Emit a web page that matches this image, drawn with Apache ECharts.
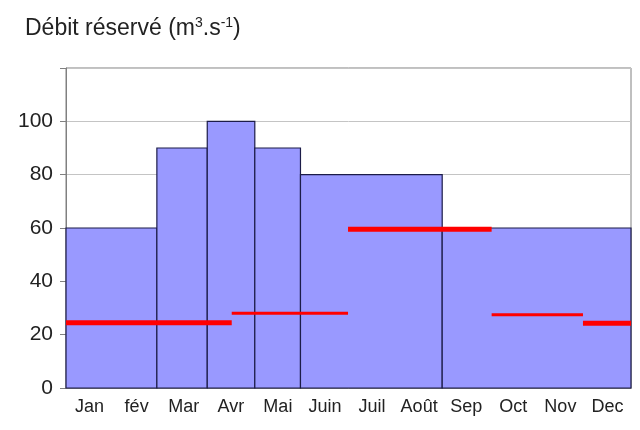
<!DOCTYPE html>
<html>
<head>
<meta charset="utf-8">
<script src="https://cdn.jsdelivr.net/npm/echarts@6/dist/echarts.min.js"></script>
<style>
  html, body { margin: 0; padding: 0; background: #fff; }
  #chart { width: 640px; height: 430px; }
</style>
</head>
<body>
<div id="chart"></div>
<script>
// month labels on the x axis
const months = ['Jan', 'fév', 'Mar', 'Avr', 'Mai', 'Juin', 'Juil', 'Août', 'Sep', 'Oct', 'Nov', 'Dec'];
const yTicks = [0, 20, 40, 60, 80, 100];

// blue blocks: [start month, end month, value]
const blocks = [
  [0, 1.93, 60],
  [1.93, 3, 90],
  [3, 4.01, 100],
  [4.01, 4.98, 90],
  [4.98, 7.99, 80],
  [7.99, 12, 60]
];

// red reserved flow segments: [start month, end month, value]
const redMain = [
  [0, 3.52, 24.5],
  [5.99, 9.04, 59.5],
  [10.98, 12, 24.3]
];
const redThin = [
  [3.52, 5.99, 28],
  [9.04, 10.98, 27.5]
];

const chart = echarts.init(document.getElementById('chart'));

const font = 'Liberation Sans, Arial, sans-serif';

function renderBlock(params, api) {
  const p0 = api.coord([api.value(0), api.value(2)]);
  const p1 = api.coord([api.value(1), 0]);
  return {
    type: 'rect',
    shape: { x: p0[0], y: p0[1], width: p1[0] - p0[0], height: p1[1] - p0[1] },
    style: { fill: '#9999ff', stroke: '#1c1c48', lineWidth: 1.2 }
  };
}

function segRenderer(width) {
  return function (params, api) {
    const p0 = api.coord([api.value(0), api.value(2)]);
    const p1 = api.coord([api.value(1), api.value(2)]);
    return {
      type: 'line',
      shape: { x1: p0[0], y1: p0[1], x2: p1[0], y2: p1[1] },
      style: { stroke: '#ff0000', lineWidth: width, lineCap: 'butt' }
    };
  };
}

chart.setOption({
  animation: false,
  title: {
    text: '{a|Débit réservé (m}{s|3}{a|.s}{s|-1}{a|)}',
    left: 20,
    top: 11,
    textStyle: {
      fontFamily: font, fontSize: 23, fontWeight: 'normal', color: '#222',
      rich: {
        a: { fontFamily: font, fontSize: 23, color: '#222', lineHeight: 24, verticalAlign: 'bottom' },
        s: { fontFamily: font, fontSize: 14, color: '#222', lineHeight: 12, verticalAlign: 'top' }
      }
    }
  },
  grid: {
    left: 66, right: 9, top: 68, bottom: 42,
    show: true, borderColor: '#808080', borderWidth: 1
  },
  xAxis: [
    {
      type: 'category',
      data: months,
      boundaryGap: true,
      axisLine: { lineStyle: { color: '#808080' } },
      axisTick: { length: 5, lineStyle: { color: '#808080' } },
      axisLabel: { fontFamily: font, fontSize: 18, color: '#222', margin: 10, interval: 0 }
    },
    {
      type: 'value',
      min: 0, max: 12,
      show: false
    }
  ],
  yAxis: {
    type: 'value',
    min: 0, max: 120, interval: 20,
    axisLine: { show: true, lineStyle: { color: '#808080' } },
    axisTick: { show: true, length: 6, lineStyle: { color: '#808080' } },
    splitLine: { lineStyle: { color: '#c4c4c4' } },
    axisLabel: {
      fontFamily: font, fontSize: 21, color: '#222', margin: 13,
      formatter: v => yTicks.includes(v) ? String(v) : ''
    }
  },
  series: [
    {
      type: 'custom',
      xAxisIndex: 1,
      renderItem: renderBlock,
      data: blocks
    },
    {
      type: 'custom',
      xAxisIndex: 1,
      renderItem: segRenderer(5),
      data: redMain
    },
    {
      type: 'custom',
      xAxisIndex: 1,
      renderItem: segRenderer(3),
      data: redThin
    }
  ]
});
</script>
</body>
</html>
